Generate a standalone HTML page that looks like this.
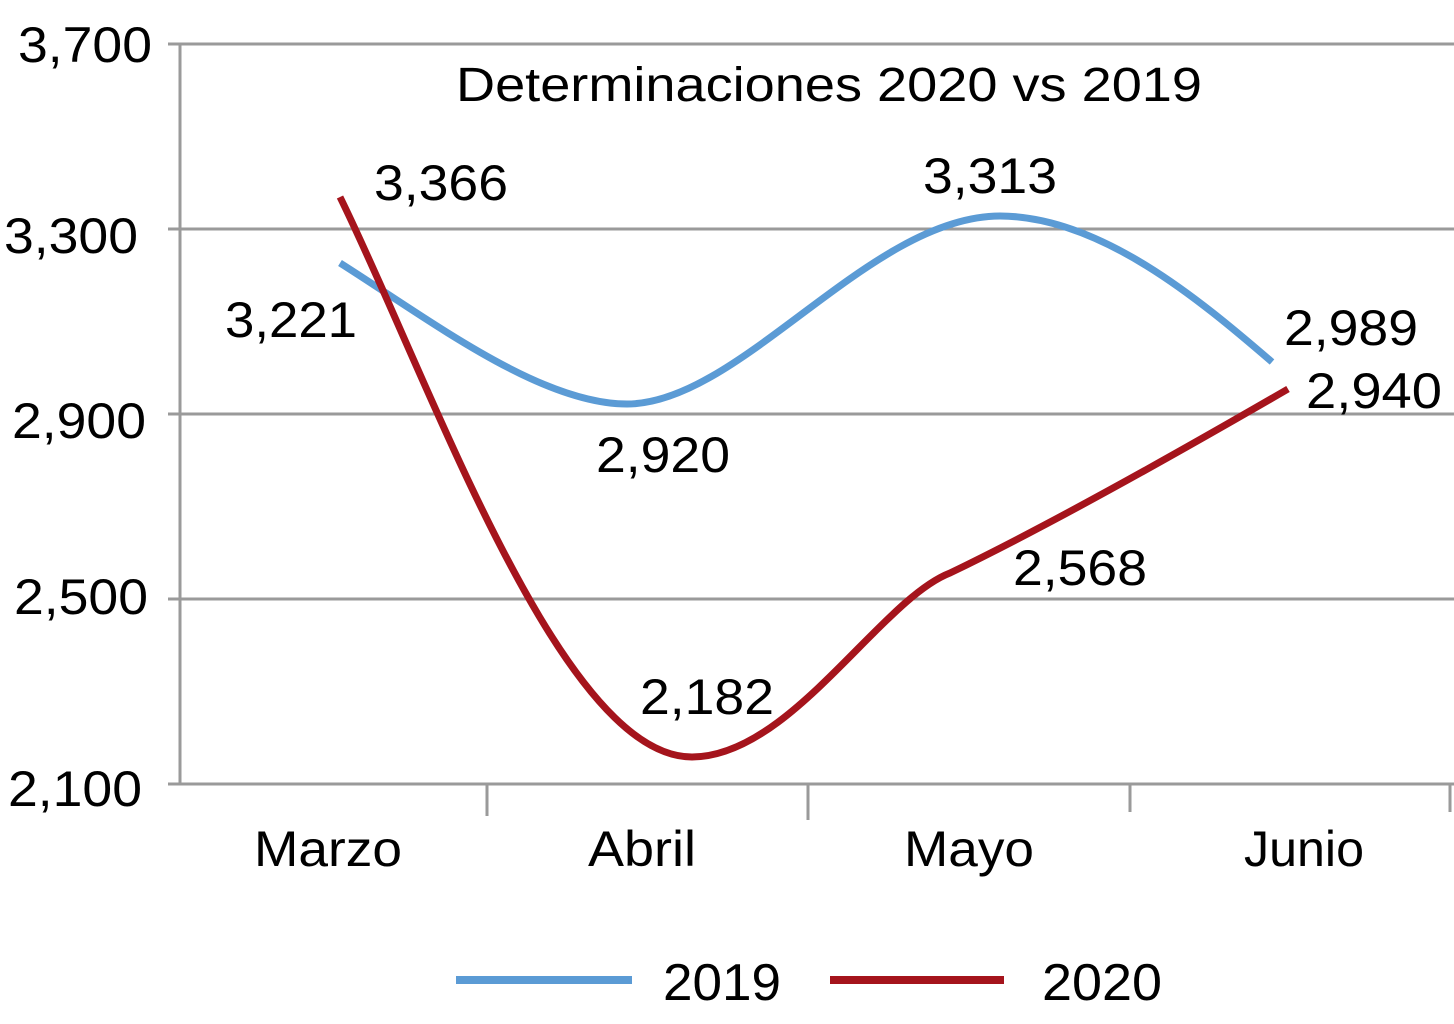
<!DOCTYPE html>
<html><head><meta charset="utf-8"><style>
html,body{margin:0;padding:0;background:#fff;}
svg{display:block;}
text{font-family:"Liberation Sans",sans-serif;fill:#000;}
</style></head><body>
<svg width="1454" height="1024" viewBox="0 0 1454 1024" xmlns="http://www.w3.org/2000/svg">
<g stroke="#9a9a9a" stroke-width="3" fill="none">
<line x1="168" y1="44" x2="1454" y2="44"/>
<line x1="168" y1="229" x2="1454" y2="229"/>
<line x1="168" y1="414" x2="1454" y2="414"/>
<line x1="168" y1="599" x2="1454" y2="599"/>
<line x1="168" y1="784" x2="1454" y2="784"/>
<line x1="180" y1="44" x2="180" y2="784"/>
<line x1="487" y1="784" x2="487" y2="816"/>
<line x1="808" y1="784" x2="808" y2="820"/>
<line x1="1130" y1="784" x2="1130" y2="812"/>
<line x1="1450" y1="784" x2="1450" y2="812"/>
</g>
<g font-size="50">
<text x="18" y="62" textLength="134" lengthAdjust="spacingAndGlyphs">3,700</text>
<text x="4" y="253" textLength="134" lengthAdjust="spacingAndGlyphs">3,300</text>
<text x="12" y="438" textLength="134" lengthAdjust="spacingAndGlyphs">2,900</text>
<text x="14" y="614" textLength="134" lengthAdjust="spacingAndGlyphs">2,500</text>
<text x="8" y="806" textLength="134" lengthAdjust="spacingAndGlyphs">2,100</text>
</g>
<text x="456" y="101" font-size="48" textLength="746" lengthAdjust="spacingAndGlyphs">Determinaciones  2020 vs 2019</text>
<g fill="none" stroke-width="7" stroke-linecap="butt">
<path d="M340,263 C430,320 540,404 627,404 C740,404 870,216 1000,216 C1100,216 1200,300 1272,362" stroke="#5b9bd5"/>
<path d="M340,197 C430,380 560,757 692,757 C790,757 880,600 950,573 C1060,520 1200,440 1288,389" stroke="#a5141c"/>
</g>
<g font-size="50">
<text x="374" y="200" textLength="134" lengthAdjust="spacingAndGlyphs">3,366</text>
<text x="225" y="337" textLength="132" lengthAdjust="spacingAndGlyphs">3,221</text>
<text x="596" y="472" textLength="134" lengthAdjust="spacingAndGlyphs">2,920</text>
<text x="640" y="714" textLength="134" lengthAdjust="spacingAndGlyphs">2,182</text>
<text x="923" y="193" textLength="134" lengthAdjust="spacingAndGlyphs">3,313</text>
<text x="1013" y="585" textLength="134" lengthAdjust="spacingAndGlyphs">2,568</text>
<text x="1284" y="345" textLength="134" lengthAdjust="spacingAndGlyphs">2,989</text>
<text x="1306" y="408" textLength="136" lengthAdjust="spacingAndGlyphs">2,940</text>
</g>
<g font-size="50">
<text x="254" y="866" textLength="148" lengthAdjust="spacingAndGlyphs">Marzo</text>
<text x="588" y="866" textLength="108" lengthAdjust="spacingAndGlyphs">Abril</text>
<text x="904" y="866" textLength="130" lengthAdjust="spacingAndGlyphs">Mayo</text>
<text x="1244" y="866" textLength="120" lengthAdjust="spacingAndGlyphs">Junio</text>
</g>
<line x1="456" y1="980" x2="632" y2="980" stroke="#5b9bd5" stroke-width="8"/>
<line x1="830" y1="980" x2="1004" y2="980" stroke="#a5141c" stroke-width="8"/>
<g font-size="52">
<text x="663" y="1000" textLength="118" lengthAdjust="spacingAndGlyphs">2019</text>
<text x="1042" y="1000" textLength="120" lengthAdjust="spacingAndGlyphs">2020</text>
</g>
</svg>
</body></html>
